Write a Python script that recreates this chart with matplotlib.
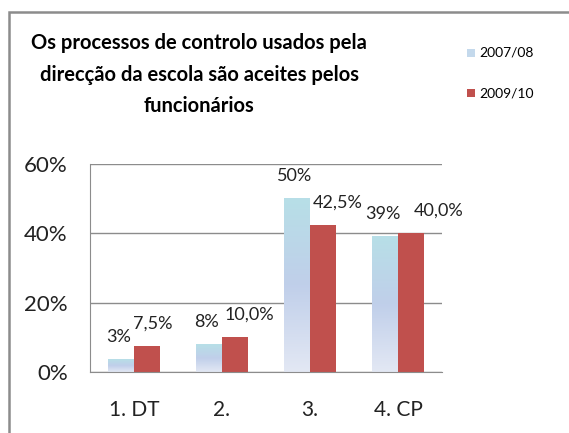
import numpy as np
import matplotlib.pyplot as plt
from matplotlib.patches import Rectangle
from matplotlib.colors import LinearSegmentedColormap

categories = ['1. DT', '2.', '3.', '4. CP']
series_0708 = [3.5, 8, 50, 39]
series_0910 = [7.5, 10, 42.5, 40]
labels_0708 = ['3%', '8%', '50%', '39%']
labels_0910 = ['7,5%', '10,0%', '42,5%', '40,0%']
yticks = [0, 20, 40, 60]

plt.rcParams['font.family'] = ['Lato', 'DejaVu Sans']

fig = plt.figure(figsize=(5.69, 4.33), dpi=100)
ax = fig.add_axes([0.158, 0.141, 0.619, 0.480])

# outer chart border (cut off at right/bottom in the original)
fig.patches.append(Rectangle((0.016, -0.05), 1.2, 0.972 + 0.05, transform=fig.transFigure,
                             fill=False, edgecolor='#8c8c8c', linewidth=1.8))

x = np.arange(len(categories))
w = 0.295
red = '#c0504d'
blue_cmap = LinearSegmentedColormap.from_list('lb', ['#e3e8f4', '#c0cfea', '#b7dfe7'])
grad = np.linspace(0, 1, 256).reshape(-1, 1)

for xi, v in zip(x, series_0708):
    ax.imshow(grad, cmap=blue_cmap, origin='lower', aspect='auto',
              extent=(xi - w, xi, 0, v), zorder=2)
ax.bar(x + w / 2, series_0910, width=w, color=red, zorder=2)

# data labels (excel nudges the red ones right to avoid overlap)
red_nudge = [0.07, 0.16, 0.17, 0.31]
for xi, v, t in zip(x, series_0708, labels_0708):
    ax.text(xi - w / 2 - 0.03, v + 4.2, t, ha='center', va='bottom', fontsize=13, color='#222222')
for xi, v, t, dx in zip(x, series_0910, labels_0910, red_nudge):
    ax.text(xi + w / 2 + dx, v + 4.2, t, ha='center', va='bottom', fontsize=13, color='#222222')

ax.set_xlim(-0.5, 3.5)
ax.set_ylim(0, 60)
ax.set_yticks(yticks)
ax.set_yticklabels([f'{t}%' for t in yticks], fontsize=16, color='#222222')
ax.set_xticks(x)
ax.set_xticklabels(categories, fontsize=15, color='#222222')
ax.tick_params(length=0)
ax.tick_params(axis='y', pad=16)
ax.tick_params(axis='x', pad=20)
ax.grid(axis='y', color='#8c8c8c', linewidth=1)
ax.set_axisbelow(True)
for s in ['top', 'right']:
    ax.spines[s].set_visible(False)
for s in ['left', 'bottom']:
    ax.spines[s].set_color('#8c8c8c')

fig.text(0.35, 0.827, 'Os processos de controlo usados pela\ndirecção da escola são aceites pelos\nfuncionários',
         ha='center', va='center', fontsize=14.5, fontweight='bold', linespacing=1.72)

# legend
fig.patches.append(Rectangle((0.821, 0.868), 0.014, 0.0185, transform=fig.transFigure,
                             facecolor='#c4d9ec', edgecolor='none'))
fig.text(0.842, 0.878, '2007/08', fontsize=10, va='center')
fig.patches.append(Rectangle((0.821, 0.776), 0.014, 0.0185, transform=fig.transFigure,
                             facecolor=red, edgecolor='none'))
fig.text(0.842, 0.785, '2009/10', fontsize=10, va='center')

fig.savefig('out.png', dpi=100)
